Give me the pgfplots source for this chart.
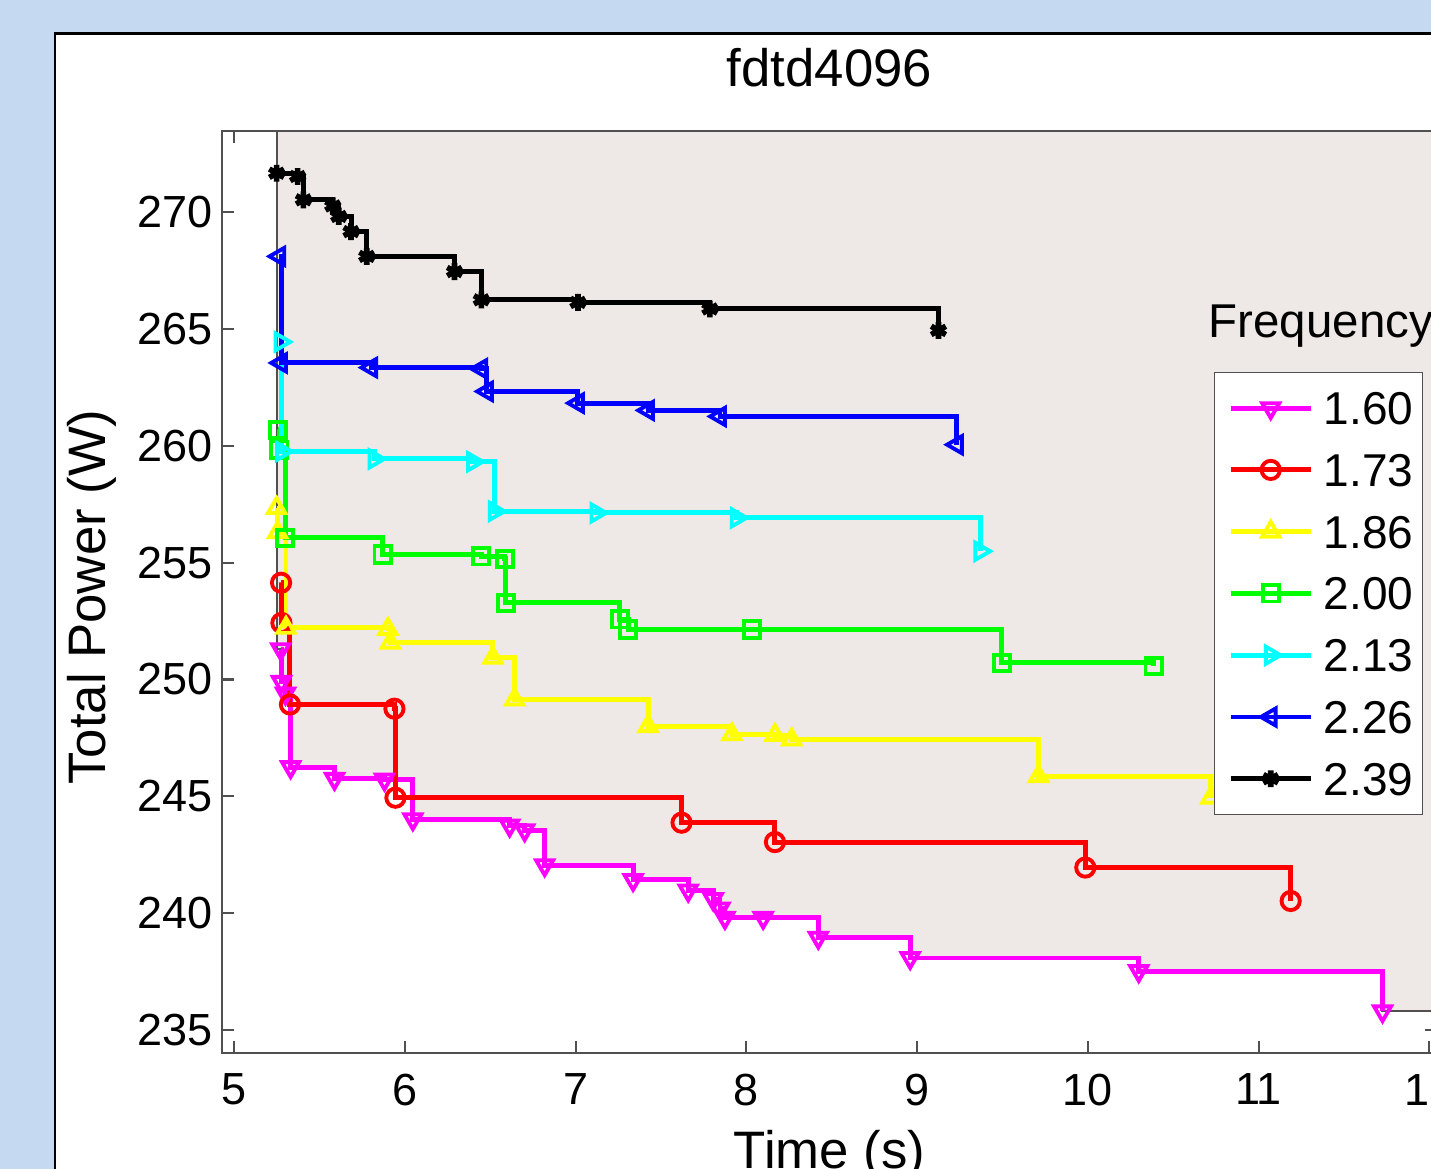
\documentclass[border=0pt]{standalone}
\usepackage{fontspec}
\setmainfont{Liberation Sans}
\usepackage{pgfplots}
\pgfplotsset{compat=1.18}
\definecolor{figbg}{RGB}{197,217,241}
\definecolor{shade}{RGB}{238,232,230}
\definecolor{axgray}{RGB}{80,80,80}
\definecolor{mMag}{RGB}{255,0,255}
\definecolor{mRed}{RGB}{255,0,0}
\definecolor{mYel}{RGB}{255,255,0}
\definecolor{mGrn}{RGB}{0,255,0}
\definecolor{mCyn}{RGB}{0,255,255}
\definecolor{mBlu}{RGB}{0,0,255}

\begin{document}
\begin{tikzpicture}
\fill[figbg] (0,0) rectangle (14.31,11.69);
\draw[fill=white, line width=0.7pt] (0.55,11.355) rectangle (16,-1);
\begin{axis}[
  scale only axis,
  width=12.15cm, height=9.226cm,
  at={(2.22cm,1.157cm)}, anchor=south west,
  xmin=4.928, xmax=12.045, ymin=234, ymax=273.49,
  xtick={5,...,12}, ytick={235,240,...,270},
  tick pos=both, xticklabel pos=left, yticklabel pos=left,
  tick align=inside,
  major tick length=0.12cm,
  axis line style={axgray, line width=0.6pt},
  every tick/.style={axgray, line width=0.6pt},
  /pgf/number format/assume math mode=true,
  ticklabel style={font=\fontsize{12.8}{14}\selectfont, inner sep=0pt},
  xticklabel style={yshift=-0.197cm},
  yticklabel style={xshift=-0.09cm},
  title={fdtd4096},
  title style={at={(0.5,1)}, anchor=base, yshift=0.227cm, inner sep=0pt,
               font=\fontsize{15}{17}\selectfont},
  xlabel={Time (s)},
  xlabel style={at={(0.5,0)}, anchor=base, yshift=-1.154cm, inner sep=0pt,
                font=\fontsize{15}{17}\selectfont},
  ylabel={Total Power (W)},
  ylabel style={at={(-0.0957,0.4946)}, anchor=base, inner sep=0pt,
                font=\fontsize{15}{17}\selectfont},
  legend cell align=left,
  legend style={at={(0.8165,0.7385)}, anchor=north west, draw=axgray, fill=white,
                font=\fontsize{13.1}{15}\selectfont,
                inner xsep=0.09cm, inner ysep=0.19cm, row sep=0.288cm,
                nodes={inner sep=0pt, text height=9.38pt, text depth=0pt}},
  legend image code/.code={
    \draw[draw=none] (0cm,-0.05cm) rectangle (1.0cm,0.05cm);
    \draw[mark repeat=2, mark phase=2, #1] plot coordinates {(0.07cm,0cm) (0.47cm,0cm) (0.87cm,0cm)};
  },
]
% shaded region above the lowest curve
\addplot[forget plot, fill=shade, draw=axgray, line width=0.6pt] coordinates {
  (5.252,273.49) (12.045,273.49) (12.045,235.8) (11.726,235.8) (11.726,237.52)
  (10.298,237.52) (10.298,238.08) (8.959,238.08) (8.959,238.95) (8.421,238.95)
  (8.421,239.8) (7.874,239.8) (7.874,240.2) (7.845,240.2) (7.845,240.6)
  (7.805,240.6) (7.805,240.97) (7.659,240.97) (7.659,241.42) (7.336,241.42)
  (7.336,242.05) (6.818,242.05) (6.818,243.55) (6.701,243.55) (6.701,243.75)
  (6.613,243.75) (6.613,244.02) (6.046,244.02) (6.046,245.72) (5.880,245.72)
  (5.880,245.75) (5.587,245.75) (5.587,246.25) (5.33,246.25) (5.33,249.4)
  (5.30,249.4) (5.30,249.9) (5.276,249.9) (5.276,251.3) (5.252,251.3) (5.252,273.49)
};

% 1.60
\addplot[const plot, color=mMag, line width=1.4pt, mark=triangle, mark size=2.8pt,
  mark options={rotate=180, line width=1.1pt}] coordinates {
  (5.272,251.3) (5.276,249.9) (5.30,249.4) (5.33,246.25) (5.587,245.75)
  (5.880,245.72) (6.046,244.02) (6.613,243.75) (6.701,243.55) (6.818,242.05)
  (7.336,241.42) (7.659,240.97) (7.805,240.6) (7.845,240.2) (7.874,239.8)
  (8.098,239.8) (8.421,238.95) (8.959,238.08) (10.298,237.52) (11.726,235.8)
};
% 1.73
\addplot[const plot, color=mRed, line width=1.4pt, mark=o, mark size=2.6pt,
  mark options={line width=1.1pt}] coordinates {
  (5.274,254.14) (5.276,252.42) (5.326,248.93) (5.938,248.75) (5.944,244.94)
  (7.620,243.87) (8.167,243.04) (9.985,241.95) (11.188,240.52)
};
% 1.86
\addplot[const plot, color=mYel, line width=1.4pt, mark=triangle, mark size=2.8pt,
  mark options={line width=1.1pt}] coordinates {
  (5.248,257.34) (5.254,256.3) (5.303,252.21) (5.900,252.16) (5.914,251.57)
  (6.515,250.93) (6.642,249.14) (7.424,248.0) (7.915,247.65) (8.167,247.62)
  (8.265,247.43) (9.711,245.86) (10.72,244.94)
};
% 2.00
\addplot[const plot, color=mGrn, line width=1.4pt, mark=square, mark size=2.3pt,
  mark options={line width=1.1pt}] coordinates {
  (5.254,260.69) (5.264,259.84) (5.299,256.06) (5.869,255.35) (6.447,255.27)
  (6.584,255.16) (6.590,253.28) (7.258,252.57) (7.307,252.14) (8.031,252.14)
  (9.496,250.71) (10.385,250.57)
};
% 2.13
\addplot[const plot, color=mCyn, line width=1.4pt, mark=triangle, mark size=2.8pt,
  mark options={rotate=-90, line width=1.1pt}] coordinates {
  (5.270,264.45) (5.278,259.76) (5.821,259.44) (6.398,259.32) (6.525,257.2)
  (7.121,257.13) (7.943,256.92) (9.370,255.49)
};
% 2.26
\addplot[const plot, color=mBlu, line width=1.4pt, mark=triangle, mark size=2.8pt,
  mark options={rotate=90, line width=1.1pt}] coordinates {
  (5.264,268.11) (5.274,263.55) (5.802,263.35) (6.447,263.3) (6.480,262.33)
  (7.013,261.83) (7.424,261.52) (7.845,261.26) (9.233,260.05)
};
% 2.39
\addplot[const plot, color=black, line width=1.4pt, mark=asterisk, mark size=2.4pt,
  mark options={line width=1.6pt}] coordinates {
  (5.248,271.67) (5.371,271.53) (5.405,270.53) (5.577,270.27) (5.612,269.82)
  (5.684,269.17) (5.776,268.11) (6.290,267.46) (6.447,266.25) (7.013,266.14)
  (7.786,265.86) (9.125,264.94)
};
\legend{1.60,1.73,1.86,2.00,2.13,2.26,2.39}
\end{axis}
\node[anchor=base west, inner sep=0pt, font=\fontsize{13.5}{15}\selectfont] at (12.08,8.31) {Frequency};
\pgfresetboundingbox
\useasboundingbox (0,0) rectangle (14.31,11.69);
\end{tikzpicture}
\end{document}
